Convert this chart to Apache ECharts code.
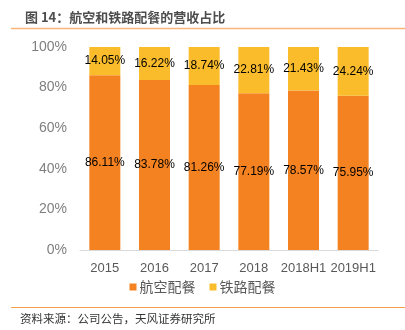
<!DOCTYPE html>
<html><head><meta charset="utf-8">
<script src="https://cdn.jsdelivr.net/npm/echarts@6/dist/echarts.min.js"></script>
<style>html,body{margin:0;padding:0;background:#fff}#c{width:405px;height:330px}</style>
</head><body><div id="c"></div>
<script>
const categories = ['2015','2016','2017','2018','2018H1','2019H1'];
const airline = [86.11, 83.78, 81.26, 77.19, 78.57, 75.95];
const railway = [14.05, 16.22, 18.74, 22.81, 21.43, 24.24];
const yTicks = [0, 20, 40, 60, 80, 100];
const seriesNames = ['航空配餐', '铁路配餐'];

const chart = echarts.init(document.getElementById('c'));
const font = '"Liberation Sans", "Noto Sans CJK SC", sans-serif';
chart.setOption({
  animation: false,
  textStyle: { fontFamily: font },
  title: {
    text: '图 14：航空和铁路配餐的营收占比',
    left: 20, top: 6,
    textStyle: { fontSize: 13, fontWeight: 'bold', color: '#4d4d4d', fontFamily: '"Noto Sans CJK SC", sans-serif' }
  },
  graphic: [
    { type: 'line', shape: { x1: 11, y1: 28.5, x2: 405, y2: 28.5 }, style: { stroke: '#F9B47C', lineWidth: 1.5 } },
    { type: 'line', shape: { x1: 11, y1: 307.5, x2: 405, y2: 307.5 }, style: { stroke: '#F5A04A', lineWidth: 1 } },
    { type: 'text', left: 20, top: 313, style: { text: '资料来源：公司公告，天风证券研究所', fontSize: 11.5, fill: '#333', fontFamily: '"Noto Sans CJK SC", sans-serif' } }
  ],
  legend: {
    data: seriesNames,
    top: 275, left: 'center',
    icon: 'rect', itemWidth: 7, itemHeight: 7, itemGap: 14,
    textStyle: { fontSize: 14, color: '#595959', padding: [0, 0, 0, -2], fontFamily: '"Noto Sans CJK SC", sans-serif' }
  },
  grid: { left: 80, right: 27, top: 47, bottom: 80 },
  xAxis: {
    type: 'category', data: categories,
    axisLine: { lineStyle: { color: '#d9d9d9' } },
    axisTick: { show: false },
    axisLabel: { color: '#595959', fontSize: 13, margin: 12, interval: 0, fontFamily: font }
  },
  yAxis: {
    type: 'value', min: 0, max: 100, interval: 20,
    axisLine: { show: false }, axisTick: { show: false },
    splitLine: { show: false },
    axisLabel: { color: '#7f7f7f', fontSize: 14, margin: 13, fontFamily: font, formatter: v => yTicks.includes(v) ? v + '%' : '' }
  },
  series: [
    {
      name: seriesNames[0], type: 'bar', stack: 's', data: airline, barWidth: 31,
      itemStyle: { color: '#F58220' },
      label: { show: true, position: 'inside', color: '#000', fontSize: 12, fontFamily: font, formatter: p => p.value.toFixed(2) + '%' }
    },
    {
      name: seriesNames[1], type: 'bar', stack: 's', data: railway, barWidth: 31,
      itemStyle: { color: '#FBBC2C' },
      label: { show: true, position: 'inside', color: '#000', fontSize: 12, fontFamily: font, formatter: p => p.value.toFixed(2) + '%' }
    }
  ]
});
</script></body></html>
